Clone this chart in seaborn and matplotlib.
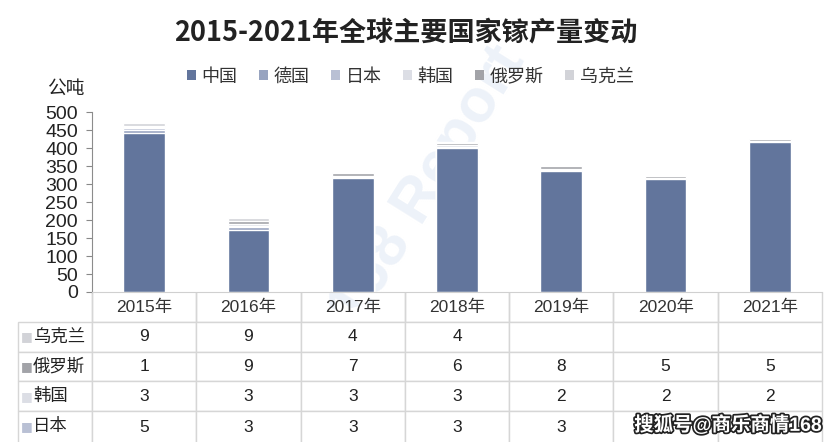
import numpy as np
import matplotlib.pyplot as plt
import matplotlib.patheffects as pe
from matplotlib.patches import Patch
from matplotlib.table import Table
import seaborn as sns

years = ['2015年', '2016年', '2017年', '2018年', '2019年', '2020年', '2021年']
series = ['中国', '德国', '日本', '韩国', '俄罗斯', '乌克兰']
colors = ['#62759c', '#98a4c0', '#b9c0d4', '#dcdee5', '#a2a3a8', '#d2d3d8']

china = [444, 172, 318, 402, 337, 315, 418]
germany = [8, 10, None, None, None, None, None]
japan = [5, 3, 3, 3, 3, None, None]
korea = [3, 3, 3, 3, 2, 2, 2]
russia = [1, 9, 7, 6, 8, 5, 5]
ukraine = [9, 9, 4, 4, None, None, None]
values = [china, germany, japan, korea, russia, ukraine]

# rows of the data table that fit in the picture (top to bottom)
table_rows = ['乌克兰', '俄罗斯', '韩国', '日本']

sns.set_style('white')
plt.rcParams['font.family'] = ['Liberation Sans', 'Noto Sans CJK SC', 'DejaVu Sans']

fig = plt.figure(figsize=(8.24, 4.42), dpi=100)
ax = fig.add_axes([92 / 824, 1 - 292 / 442, 730 / 824, 179.6 / 442])
ax.set_zorder(2)
ax.patch.set_alpha(0)

# faint background watermark
fig.text(0.52, 0.58, '168 Report', fontsize=44, color='#edf2f9', rotation=58,
         ha='center', va='center', weight='bold', zorder=0)

# stacked bars: draw cumulative totals from the top down
arr = np.array([[0 if v is None else v for v in s] for s in values], dtype=float)
cum = np.cumsum(arr, axis=0)
for i in range(len(series) - 1, -1, -1):
    sns.barplot(x=years, y=cum[i], color=colors[i], saturation=1, width=0.4,
                ax=ax, zorder=2)

ax.set_ylim(0, 500)
ax.set_xlim(-0.5, 6.5)
ax.set_yticks(range(0, 501, 50))
ax.set_xticks([])
ax.set_xlabel('')
ax.set_ylabel('')
ax.tick_params(axis='y', labelsize=14, length=4, color='#888888', left=True,
               pad=6, labelcolor='#222222')
for s in ['top', 'right']:
    ax.spines[s].set_visible(False)
ax.spines['left'].set_color('#8c8c8c')
ax.spines['bottom'].set_color('#d0d0d0')

fig.text(0.493, 1 - 32 / 442, '2015-2021年全球主要国家镓产量变动', fontsize=19.5,
         weight='bold', ha='center', va='center', color='#222222',
         family=['Noto Sans CJK SC', 'DejaVu Sans'])
fig.text(66 / 824, 1 - 89 / 442, '公吨', fontsize=13.5, ha='center', va='center',
         color='#222222')

handles = [Patch(facecolor=c, edgecolor='none', label=n) for n, c in zip(series, colors)]
leg = ax.legend(handles=handles, ncol=6, loc='center', bbox_to_anchor=(0.436, 1.197),
                frameon=False, fontsize=13, handlelength=0.5, handleheight=0.5,
                handletextpad=0.3, columnspacing=1.2)
for t in leg.get_texts():
    t.set_color('#333333')

# data table below the axis
row_h = 29.8 / 179.6
lab_w = 74 / 730
col_w = 1 / 7
n = len(table_rows) + 1
tbl = Table(ax, bbox=[-lab_w, -row_h * n - 0.02, 1 + lab_w, row_h * n + 0.02])
edge = '#d6d6d6'
c = tbl.add_cell(0, 0, lab_w, row_h, text='')
c.visible_edges = 'R'
c.set_edgecolor(edge)
for j, y in enumerate(years):
    c = tbl.add_cell(0, j + 1, col_w, row_h, text=y, loc='center')
    c.set_edgecolor(edge)
    c.visible_edges = 'LRB'
    c.get_text().set_color('#333333')
for r, name in enumerate(table_rows):
    i = series.index(name)
    last = r == len(table_rows) - 1
    h = row_h + (0.02 if last else 0)
    c = tbl.add_cell(r + 1, 0, lab_w, h, text='')
    c.set_edgecolor(edge)
    if last:
        c.visible_edges = 'LRT'
    for j, v in enumerate(values[i]):
        c = tbl.add_cell(r + 1, j + 1, col_w, h,
                         text='' if v is None else str(v), loc='center')
        c.set_edgecolor(edge)
        c.get_text().set_color('#222222')
        if last:
            c.visible_edges = 'LRT'
    yc = -row_h * (r + 1.5)
    ax.text(-0.097, yc, '■', color=colors[i], fontsize=9, ha='left', va='center',
            transform=ax.transAxes, clip_on=False,
            family=['DejaVu Sans'])
    ax.text(-0.081, yc, name, color='#222222', fontsize=12.5, ha='left',
            va='center', transform=ax.transAxes, clip_on=False)
tbl.auto_set_font_size(False)
tbl.set_fontsize(12.5)
tbl.set_clip_on(False)
ax.add_table(tbl)

fig.text(0.998, 1 - 425 / 442, '搜狐号@商乐商情168', fontsize=14, weight='bold',
         ha='right', va='center', color='white', zorder=5,
         path_effects=[pe.withStroke(linewidth=2.5, foreground='#222222')])

fig.savefig('out.png', dpi=100)
